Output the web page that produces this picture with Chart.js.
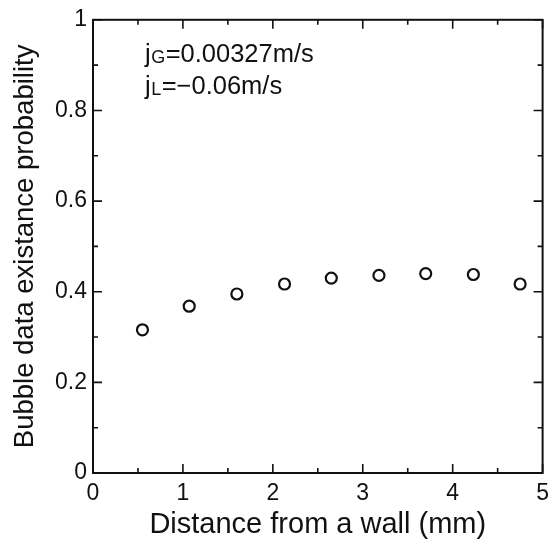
<!DOCTYPE html>
<html>
<head>
<meta charset="utf-8">
<script src="https://cdn.jsdelivr.net/npm/chart.js@4.4.1/dist/chart.umd.min.js"></script>
<style>
  html, body { margin: 0; padding: 0; background: #ffffff; }
  #wrap { width: 556px; height: 543px; position: relative; }
</style>
</head>
<body>
<div id="wrap"><canvas id="c" width="556" height="543"></canvas></div>
<script>
// ---- data ----
const distances = [0.55, 1.07, 1.6, 2.13, 2.65, 3.18, 3.7, 4.23, 4.75];
const probabilities = [0.316, 0.368, 0.395, 0.417, 0.430, 0.436, 0.440, 0.438, 0.417];
const xMajorTicks = [0, 1, 2, 3, 4, 5];
const xMinorTicks = [0.5, 1.5, 2.5, 3.5, 4.5];
const yMajorTicks = [0, 0.2, 0.4, 0.6, 0.8, 1];
const yMinorTicks = [0.1, 0.3, 0.5, 0.7, 0.9];
const xTickLabels = ['0', '1', '2', '3', '4', '5'];
const yTickLabels = ['0', '0.2', '0.4', '0.6', '0.8', '1'];
const xTitle = 'Distance from a wall (mm)';
const yTitle = 'Bubble data existance probability';
const noteLines = [
  { main: 'j', sub: 'G', rest: '=0.00327m/s' },
  { main: 'j', sub: 'L', rest: '=\u22120.06m/s' }
];

const FONT = '"Liberation Sans", Arial, Helvetica, sans-serif';

const framePlugin = {
  id: 'frame',
  afterDraw(chart) {
    const { ctx, chartArea: a, scales } = chart;
    const xs = scales.x, ys = scales.y;
    ctx.save();
    ctx.strokeStyle = '#111';
    ctx.lineWidth = 2;
    ctx.strokeRect(a.left, a.top, a.right - a.left, a.bottom - a.top);
    const major = 9, minor = 5;
    ctx.lineWidth = 1.6;
    ctx.beginPath();
    const xt = (v, len) => {
      const p = xs.getPixelForValue(v);
      ctx.moveTo(p, a.bottom); ctx.lineTo(p, a.bottom - len);
      ctx.moveTo(p, a.top); ctx.lineTo(p, a.top + len);
    };
    const yt = (v, len) => {
      const p = ys.getPixelForValue(v);
      ctx.moveTo(a.left, p); ctx.lineTo(a.left + len, p);
      ctx.moveTo(a.right, p); ctx.lineTo(a.right - len, p);
    };
    xMajorTicks.forEach(v => xt(v, major));
    xMinorTicks.forEach(v => xt(v, minor));
    yMajorTicks.forEach(v => yt(v, major));
    yMinorTicks.forEach(v => yt(v, minor));
    ctx.stroke();

    // annotation
    ctx.fillStyle = '#111';
    ctx.textBaseline = 'alphabetic';
    const x0 = a.left + 52;
    const bases = [a.top + 42, a.top + 74];
    noteLines.forEach((ln, i) => {
      let x = x0;
      const b = bases[i];
      ctx.font = '25.5px ' + FONT;
      ctx.fillText(ln.main, x, b);
      x += ctx.measureText(ln.main).width + 0.5;
      ctx.font = '18px ' + FONT;
      ctx.fillText(ln.sub, x, b + 1);
      x += ctx.measureText(ln.sub).width + 0.5;
      ctx.font = '25.5px ' + FONT;
      ctx.fillText(ln.rest, x, b);
    });
    ctx.restore();
  }
};

new Chart(document.getElementById('c'), {
  type: 'scatter',
  data: {
    datasets: [{
      data: distances.map((d, i) => ({ x: d, y: probabilities[i] })),
      pointStyle: 'circle',
      pointRadius: 5.5,
      pointHoverRadius: 5.5,
      pointBorderWidth: 2.2,
      pointBorderColor: '#111',
      pointBackgroundColor: 'rgba(255,255,255,0)'
    }]
  },
  options: {
    responsive: false,
    animation: false,
    devicePixelRatio: 1,
    layout: { padding: { left: 0, top: 16, right: 13, bottom: 0 } },
    plugins: { legend: { display: false }, tooltip: { enabled: false } },
    scales: {
      x: {
        type: 'linear', min: 0, max: 5,
        afterBuildTicks: s => { s.ticks = xMajorTicks.map(v => ({ value: v })); },
        afterFit: s => { s.height = 70; },
        grid: { display: false, drawTicks: false },
        border: { display: false },
        ticks: {
          color: '#111', padding: 7, maxRotation: 0,
          font: { family: FONT, size: 23 },
          callback: (v, i) => xTickLabels[i]
        },
        title: {
          display: true, text: xTitle, color: '#111',
          font: { family: FONT, size: 29 }, padding: { top: 0, bottom: 1 }
        }
      },
      y: {
        type: 'linear', min: 0, max: 1,
        afterBuildTicks: s => { s.ticks = yMajorTicks.map(v => ({ value: v })); },
        afterFit: s => { s.width = 93; },
        grid: { display: false, drawTicks: false },
        border: { display: false },
        ticks: {
          color: '#111', padding: 6,
          font: { family: FONT, size: 23 },
          callback: (v, i) => yTickLabels[i]
        },
        title: {
          display: true, text: yTitle, color: '#111',
          font: { family: FONT, size: 27.5 }, padding: { top: 9, bottom: 0 }
        }
      }
    }
  },
  plugins: [framePlugin]
});
</script>
</body>
</html>
